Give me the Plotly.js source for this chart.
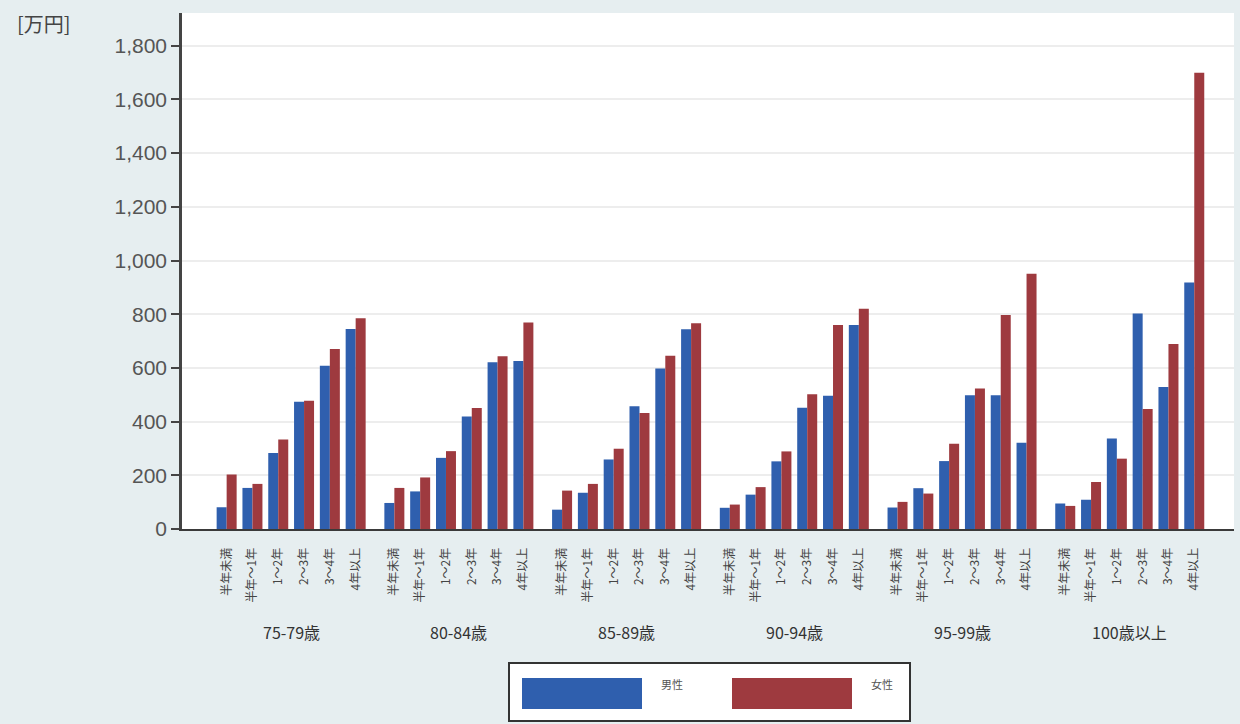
<!DOCTYPE html>
<html>
<head>
<meta charset="utf-8">
<script src="https://cdn.plot.ly/plotly-3.0.1.min.js"></script>
<style>html,body{margin:0;padding:0;background:#e6eef0;}#chart{width:1240px;height:724px;}</style>
</head>
<body>
<div id="chart"></div>
<script>
const ageGroups = ['75-79歳', '80-84歳', '85-89歳', '90-94歳', '95-99歳', '100歳以上'];
const durations = ['半年未満', '半年～1年', '1～2年', '2～3年', '3～4年', '4年以上'];
const seriesNames = ['男性', '女性'];
const maleValues = [
  [81, 153, 283, 474, 608, 745],
  [97, 140, 265, 419, 621, 626],
  [72, 135, 259, 457, 598, 744],
  [79, 128, 252, 452, 496, 760],
  [80, 152, 253, 498, 498, 321],
  [95, 109, 337, 803, 529, 918]
];
const femaleValues = [
  [203, 168, 333, 478, 670, 785],
  [153, 192, 290, 451, 643, 769],
  [143, 168, 299, 432, 645, 766],
  [91, 156, 289, 502, 760, 820],
  [101, 132, 318, 523, 797, 951],
  [86, 175, 262, 447, 689, 1699]
];
const yTickVals = [0, 200, 400, 600, 800, 1000, 1200, 1400, 1600, 1800];

const GROUP_STEP = 6.5;
const colors = ['#2f5fae', '#9e3a3f'];
const cjk = '"Noto Sans CJK JP", "Liberation Sans", Arial, sans-serif';

const xs = [], tickText = [], yMale = [], yFemale = [];
ageGroups.forEach((g, gi) => {
  durations.forEach((d, di) => {
    xs.push(gi * GROUP_STEP + di);
    tickText.push(d);
    yMale.push(maleValues[gi][di]);
    yFemale.push(femaleValues[gi][di]);
  });
});

const traces = [
  {type: 'bar', x: xs, y: yMale, name: seriesNames[0], marker: {color: colors[0]}, hoverinfo: 'y'},
  {type: 'bar', x: xs, y: yFemale, name: seriesNames[1], marker: {color: colors[1]}, hoverinfo: 'y'}
];

// paper-coordinate helpers for decorations (plot area: x 182..1234, y 13..529)
const L = 182, R = 6, T = 13, B = 195;
const W = 1240 - L - R, H = 724 - T - B;
const px = v => (v - L) / W;
const py = v => (724 - B - v) / H;

const annotations = ageGroups.map((g, gi) => ({
  x: gi * GROUP_STEP + 2.5, xref: 'x', y: py(632), yref: 'paper',
  text: g, showarrow: false, xanchor: 'center', yanchor: 'middle',
  font: {family: cjk, size: 16, color: '#333'}
}));
annotations.push({
  x: px(44), y: py(23), xref: 'paper', yref: 'paper', text: '[万円]',
  showarrow: false, xanchor: 'center', yanchor: 'middle',
  font: {family: cjk, size: 20, color: '#444'}
});
annotations.push({
  x: px(672), y: py(694), xref: 'paper', yref: 'paper', text: seriesNames[0],
  showarrow: false, font: {family: cjk, size: 11, color: '#555'}
});
annotations.push({
  x: px(882), y: py(694), xref: 'paper', yref: 'paper', text: seriesNames[1],
  showarrow: false, font: {family: cjk, size: 11, color: '#555'}
});

const shapes = [
  {type: 'rect', xref: 'paper', yref: 'paper', x0: px(509), x1: px(910), y0: py(721), y1: py(663),
   fillcolor: '#ffffff', line: {color: '#333', width: 2}},
  {type: 'rect', xref: 'paper', yref: 'paper', x0: px(522), x1: px(642), y0: py(709), y1: py(678),
   fillcolor: colors[0], line: {width: 0}},
  {type: 'rect', xref: 'paper', yref: 'paper', x0: px(732), x1: px(852), y0: py(709), y1: py(678),
   fillcolor: colors[1], line: {width: 0}}
];

const layout = {
  width: 1240, height: 724,
  margin: {l: L, r: R, t: T, b: B},
  paper_bgcolor: '#e6eef0',
  plot_bgcolor: '#ffffff',
  showlegend: false,
  barmode: 'group',
  bargap: 0.225,
  bargroupgap: 0,
  xaxis: {
    range: [-1.73, 39.04],
    tickmode: 'array', tickvals: xs, ticktext: tickText,
    tickangle: -90,
    tickfont: {family: cjk, size: 12, color: '#444'},
    ticks: '', showgrid: false, zeroline: false,
    showline: true, linecolor: '#3a3a3a', linewidth: 2,
    ticklabelstandoff: 12
  },
  yaxis: {
    range: [0, 1922],
    tickmode: 'array', tickvals: yTickVals,
    tickformat: ',d',
    tickfont: {family: '"Liberation Sans", Arial, sans-serif', size: 21, color: '#555'},
    ticks: 'outside', ticklen: 8, tickwidth: 2, tickcolor: '#444',
    showline: true, linecolor: '#444', linewidth: 2.5,
    showgrid: true, gridcolor: '#ededed', gridwidth: 2,
    zeroline: false
  },
  annotations: annotations,
  shapes: shapes
};

Plotly.newPlot('chart', traces, layout, {displayModeBar: false, responsive: false});
</script>
</body>
</html>
